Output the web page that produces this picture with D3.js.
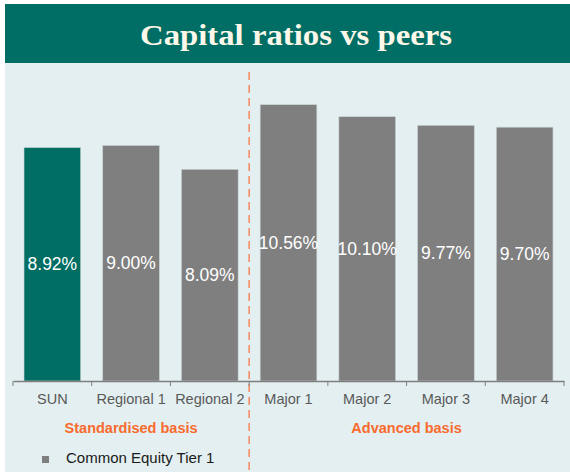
<!DOCTYPE html>
<html>
<head>
<meta charset="utf-8">
<script src="https://cdn.jsdelivr.net/npm/d3@7"></script>
<style>
  body { margin: 0; background: #ffffff; }
  text { font-family: "Liberation Sans", Arial, sans-serif; }
</style>
</head>
<body>
<script>
var width = 570,
    height = 472;

// data
var categories = ["SUN", "Regional 1", "Regional 2", "Major 1", "Major 2", "Major 3", "Major 4"];
var values = [8.92, 9.00, 8.09, 10.56, 10.10, 9.77, 9.70];
var groups = [
  {name: "Standardised basis", from: "SUN", to: "Regional 2"},
  {name: "Advanced basis", from: "Major 1", to: "Major 4"}
];
var seriesName = "Common Equity Tier 1";

var svg = d3.select("body").append("svg")
    .attr("width", width)
    .attr("height", height);

// panel background + header
svg.append("rect")
    .attr("x", 5).attr("y", 4)
    .attr("width", width - 5).attr("height", height - 4)
    .attr("fill", "#e3eff0");

svg.append("rect")
    .attr("x", 5).attr("y", 4)
    .attr("width", width - 5).attr("height", 59)
    .attr("fill", "#006e64");

svg.append("text")
    .attr("x", 296).attr("y", 45)
    .attr("text-anchor", "middle")
    .style("font-family", "'Liberation Serif', Georgia, serif")
    .style("font-weight", "bold")
    .style("font-size", "29px")
    .attr("textLength", 312)
    .attr("lengthAdjust", "spacingAndGlyphs")
    .attr("fill", "#fdf8ea")
    .text("Capital ratios vs peers");

var x = d3.scaleBand()
    .domain(categories)
    .range([13, 564])
    .paddingInner(0.28)
    .paddingOuter(0.14);

var y = d3.scaleLinear()
    .domain([0, 12])
    .range([381, 67]);

// divider between groups
var divX = (x("Regional 2") + x.bandwidth() + x("Major 1")) / 2;
svg.append("line")
    .attr("x1", divX).attr("x2", divX)
    .attr("y1", 72).attr("y2", height)
    .attr("stroke", "#f5875c")
    .attr("stroke-width", 1.5)
    .attr("stroke-dasharray", "8,5");

var data = categories.map(function(c, i){ return {cat: c, val: values[i]}; });

svg.selectAll(".bar")
    .data(data)
    .enter()
    .append("rect")
    .attr("class", "bar")
    .attr("x", d => x(d.cat))
    .attr("y", d => y(d.val))
    .attr("width", x.bandwidth())
    .attr("height", d => y(0) - y(d.val))
    .attr("fill", d => d.cat == "SUN" ? "#006e62" : "#7f7f7f")
    .attr("stroke", "#c8d2d2")
    .attr("stroke-width", 0.6);

svg.selectAll(".lbl")
    .data(data)
    .enter()
    .append("text")
    .attr("class", "lbl")
    .attr("x", d => x(d.cat) + x.bandwidth() / 2)
    .attr("y", d => (y(d.val) + y(0)) / 2 + 6)
    .attr("text-anchor", "middle")
    .attr("fill", "#ffffff")
    .style("font-size", "17.5px")
    .text(d => d.val.toFixed(2) + "%");

// axis
var xAxis = d3.axisBottom(x).tickSize(0).tickPadding(13);
var ax = svg.append("g")
    .attr("transform", "translate(0,381)")
    .call(xAxis);
ax.select(".domain").attr("stroke", "#7f7f7f").attr("stroke-width", 1.5);
ax.selectAll("text")
    .attr("fill", "#595959")
    .style("font-size", "14.5px")
    .style("font-family", "'Liberation Sans', Arial, sans-serif");

// tick marks at band boundaries
var step = x.step();
var bounds = categories.map(c => x(c) - (step - x.bandwidth()) / 2);
bounds.push(x(categories[categories.length - 1]) + x.bandwidth() + (step - x.bandwidth()) / 2);
svg.selectAll(".tk")
    .data(bounds)
    .enter()
    .append("line")
    .attr("x1", d => d).attr("x2", d => d)
    .attr("y1", 381).attr("y2", 386)
    .attr("stroke", "#7f7f7f")
    .attr("stroke-width", 1);

// group labels
svg.selectAll(".grp")
    .data(groups)
    .enter()
    .append("text")
    .attr("x", d => (x(d.from) + x(d.to) + x.bandwidth()) / 2)
    .attr("y", 433)
    .attr("text-anchor", "middle")
    .attr("fill", "#f96a2e")
    .style("font-size", "14.5px")
    .style("font-weight", "bold")
    .text(d => d.name);

// legend
svg.append("rect")
    .attr("x", 42).attr("y", 456)
    .attr("width", 7).attr("height", 7)
    .attr("fill", "#7f7f7f");
svg.append("text")
    .attr("x", 66).attr("y", 463)
    .attr("fill", "#1a1a1a")
    .style("font-size", "15px")
    .text(seriesName);
</script>
</body>
</html>
